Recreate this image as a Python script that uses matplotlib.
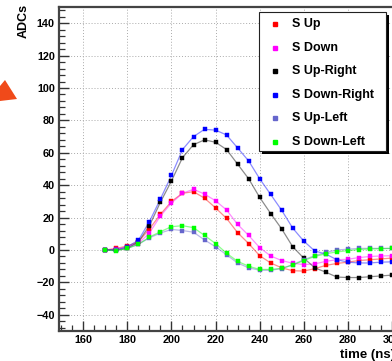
import matplotlib
matplotlib.use("Agg")
import matplotlib.pyplot as plt
from matplotlib.patches import Rectangle, Polygon
from matplotlib.lines import Line2D
from matplotlib.ticker import MultipleLocator

plt.rcParams['font.family'] = ['Liberation Sans', 'DejaVu Sans']
plt.rcParams['font.weight'] = 'bold'

time_ns = [170, 175, 180, 185, 190, 195, 200, 205, 210, 215, 220, 225, 230, 235,
           240, 245, 250, 255, 260, 265, 270, 275, 280, 285, 290, 295, 300, 305]

s_up = [0, 1, 2.5, 5, 13, 22, 30, 35, 36, 32, 26, 19.5, 10.7, 4,
        -3.5, -8, -11, -12.8, -13, -11.5, -9.5, -8.3, -7.5, -6.5, -6, -5.5, -5, -4.8]
s_down = [0, 0.5, 2, 4, 10.5, 21, 29, 35, 37.5, 34.5, 30.4, 24.7, 15.8, 9,
          1.5, -3.7, -6.5, -8.2, -9, -8.6, -7, -6, -5.7, -4.7, -4, -3.7, -3.5, -3.3]
s_up_right = [0, 0, 1, 5, 15, 29.5, 42.6, 57, 65, 68, 66.5, 62, 53, 44,
              32.5, 22.5, 13, 2, -5, -11, -13.7, -16.7, -17, -17, -16.5, -16, -15.5, -15]
s_down_right = [0, 0, 2, 6, 17.5, 31.5, 46, 62, 70, 74.5, 74, 71, 63, 55,
                44, 34.3, 24.5, 13.5, 5.5, -0.6, -2.5, -6, -7.5, -8, -8, -7.5, -7.3, -7]
s_up_left = [0, 0, 1, 3.5, 7.5, 10.5, 12.7, 12, 11, 6.2, 2, -3, -8, -11,
             -12.5, -12.5, -11.5, -9, -6, -3.5, -1.5, 0, 0.5, 1, 1, 1, 1, 1]
s_down_left = [0, -0.5, 1, 3.5, 8, 11.3, 14.4, 15, 13.8, 9, 4, -2, -7, -10,
               -12, -12, -11.3, -9.3, -6.5, -4, -2.3, -1.2, -0.4, 0.3, 0.6, 0.8, 1, 1]

labels = ["S Up", "S Down", "S Up-Right", "S Down-Right", "S Up-Left", "S Down-Left"]
series = [s_up, s_down, s_up_right, s_down_right, s_up_left, s_down_left]
colors = ["#ff0000", "#ff00ff", "#000000", "#0000ff", "#6666cc", "#00ff00"]

W, H = 392, 361
fig = plt.figure(figsize=(W / 100, H / 100), dpi=100)
fig.patch.set_facecolor('white')

x_left, x_right = 59, 414
y_top, y_bot = 7, 331
ax = fig.add_axes([x_left / W, 1 - y_bot / H, (x_right - x_left) / W, (y_bot - y_top) / H])
ax.set_xlim(149, 310)
ax.set_ylim(-50, 150)

for vals, c in zip(series, colors):
    ax.plot(time_ns, vals, color=c, lw=0.9, alpha=0.45, zorder=3)
    ax.plot(time_ns, vals, ls='none', marker='s', ms=3.2, mfc=c, mec=c, mew=0.3, zorder=4)

ax.xaxis.set_major_locator(MultipleLocator(20))
ax.xaxis.set_minor_locator(MultipleLocator(5))
ax.yaxis.set_major_locator(MultipleLocator(20))
ax.yaxis.set_minor_locator(MultipleLocator(4))
ax.grid(True, which='major', color='#aaaaaa', lw=0.7, ls=(0, (1, 2)))
ax.set_axisbelow(True)

ax.tick_params(which='major', direction='in', length=7, width=1.0, color='#333333',
               labelsize=7.8, pad=3, top=False, right=False)
ax.tick_params(which='minor', direction='in', length=4, width=0.9, color='#333333',
               top=False, right=False)
for lab in ax.get_xticklabels() + ax.get_yticklabels():
    lab.set_fontweight('bold')
for sp in ax.spines.values():
    sp.set_color('#444444')
    sp.set_linewidth(1.6)

fig.text(24 / W, 1 - 4 / H, "ADCs", rotation=90, ha='center', va='top',
         fontsize=9, fontweight='bold')
fig.text(340 / W, 1 - 355 / H, "time (ns)", ha='left', va='center',
         fontsize=9.5, fontweight='bold')

# legend (ROOT-style with shadow)
lx0, lx1, ly0, ly1 = 259, 386, 12, 151
fig.patches.append(Rectangle(((lx0 + 3) / W, 1 - (ly1 + 3) / H), (lx1 - lx0) / W, (ly1 - ly0) / H,
                             transform=fig.transFigure, facecolor='black', edgecolor='none', zorder=10))
fig.patches.append(Rectangle((lx0 / W, 1 - ly1 / H), (lx1 - lx0) / W, (ly1 - ly0) / H,
                             transform=fig.transFigure, facecolor='white', edgecolor='#222222',
                             lw=0.8, zorder=11))
row_y = [24, 48, 71, 95, 118, 142]
for yy, lab, c in zip(row_y, labels, colors):
    fig.lines.append(Line2D([275 / W], [1 - yy / H], transform=fig.transFigure, marker='s',
                            ms=3.0, mfc=c, mec=c, ls='none', zorder=12))
    fig.text(292 / W, 1 - yy / H, lab, ha='left', va='center', fontsize=9,
             fontweight='bold', zorder=12)

# orange arrow fragment at left edge
fig.patches.append(Polygon([(0 / W, 1 - 86 / H), (5 / W, 1 - 80 / H), (17 / W, 1 - 99 / H), (0 / W, 1 - 101 / H)],
                           closed=True, transform=fig.transFigure, facecolor='#f04a1a',
                           edgecolor='none', zorder=10))

fig.savefig("out.png", dpi=100)
